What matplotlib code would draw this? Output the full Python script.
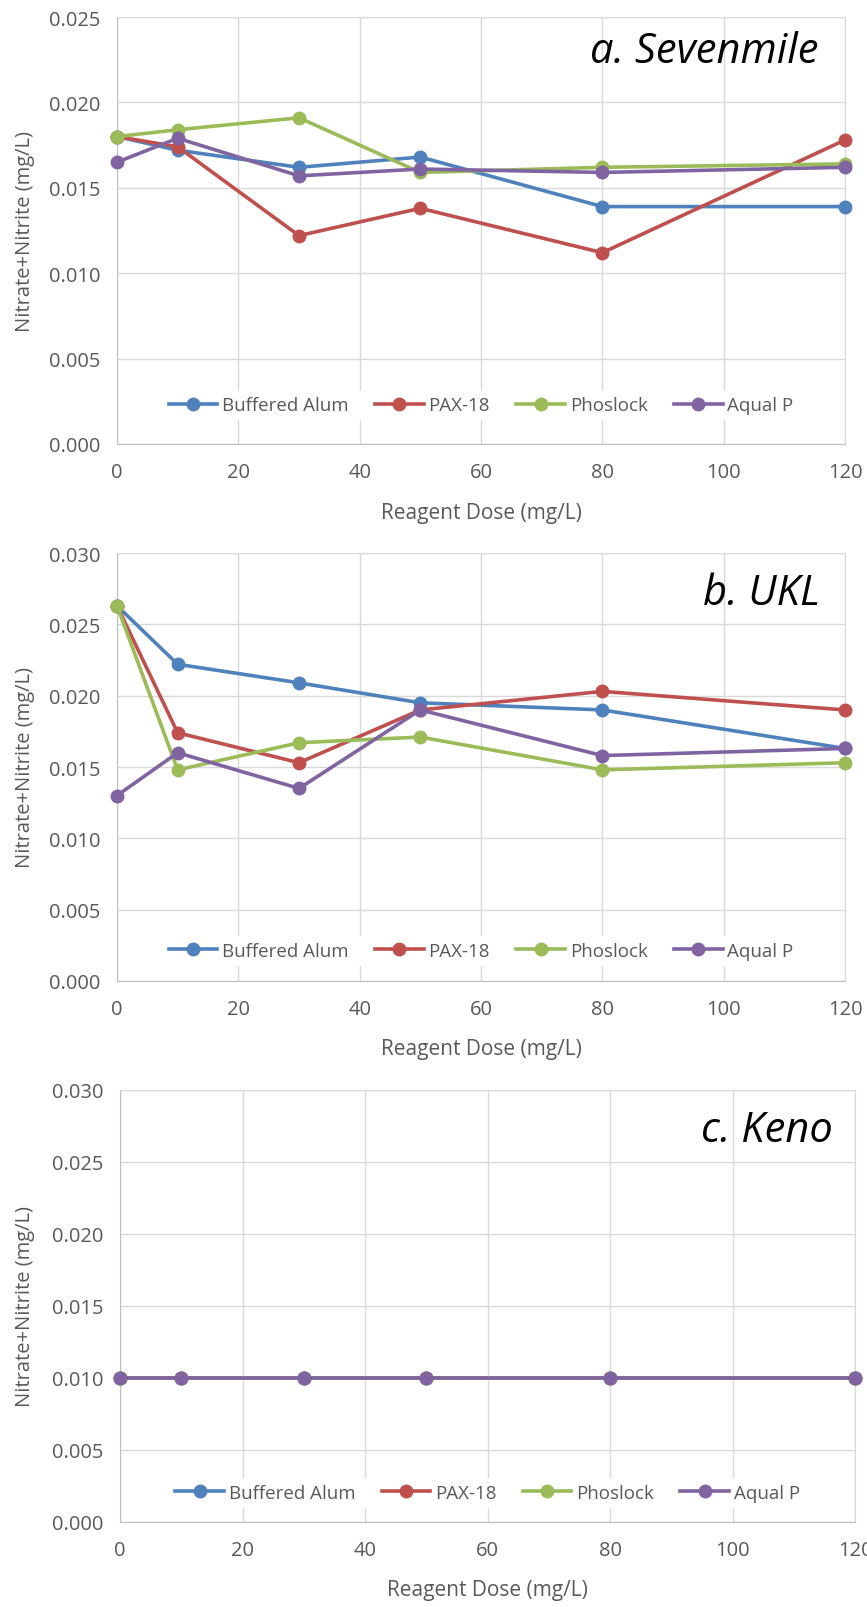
import numpy as np
import matplotlib.pyplot as plt

plt.rcParams['font.family'] = ['Open Sans', 'DejaVu Sans']

dose = [0, 10, 30, 50, 80, 120]
series_names = ['Buffered Alum', 'PAX-18', 'Phoslock', 'Aqual P']
colors = ['#4F81BD', '#C0504D', '#9BBB59', '#8064A2']

# a. Sevenmile
sevenmile_alum = [0.0180, 0.0172, 0.0162, 0.0168, 0.0139, 0.0139]
sevenmile_pax = [0.0180, 0.0174, 0.0122, 0.0138, 0.0112, 0.0178]
sevenmile_phos = [0.0180, 0.0184, 0.0191, 0.0159, 0.0162, 0.0164]
sevenmile_aqual = [0.0165, 0.0179, 0.0157, 0.0161, 0.0159, 0.0162]

# b. UKL
ukl_alum = [0.0263, 0.0222, 0.0209, 0.0195, 0.0190, 0.0163]
ukl_pax = [0.0263, 0.0174, 0.0153, 0.0190, 0.0203, 0.0190]
ukl_phos = [0.0263, 0.0148, 0.0167, 0.0171, 0.0148, 0.0153]
ukl_aqual = [0.0130, 0.0160, 0.0135, 0.0190, 0.0158, 0.0163]

# c. Keno
keno_alum = [0.010, 0.010, 0.010, 0.010, 0.010, 0.010]
keno_pax = [0.010, 0.010, 0.010, 0.010, 0.010, 0.010]
keno_phos = [0.010, 0.010, 0.010, 0.010, 0.010, 0.010]
keno_aqual = [0.010, 0.010, 0.010, 0.010, 0.010, 0.010]

W, H = 867, 1608
fig = plt.figure(figsize=(W / 100, H / 100), dpi=100)


def px_axes(left, right, top, bottom):
    return fig.add_axes([left / W, (H - bottom) / H, (right - left) / W, (bottom - top) / H])


panels = [
    dict(box=(117, 845, 18, 445), ymax=0.025, title='a. Sevenmile',
         data=[sevenmile_alum, sevenmile_pax, sevenmile_phos, sevenmile_aqual],
         title_pos=(0.963, 0.895), leg_y=0.091),
    dict(box=(117, 845, 554, 982), ymax=0.030, title='b. UKL',
         data=[ukl_alum, ukl_pax, ukl_phos, ukl_aqual],
         title_pos=(0.966, 0.881), leg_y=0.070),
    dict(box=(120, 855, 1091, 1523), ymax=0.030, title='c. Keno',
         data=[keno_alum, keno_pax, keno_phos, keno_aqual],
         title_pos=(0.970, 0.882), leg_y=0.067),
]

for p in panels:
    left, right, top, bottom = p['box']
    ax = px_axes(left, right, top, bottom)
    for name, vals, c in zip(series_names, p['data'], colors):
        ax.plot(dose, vals, color=c, lw=2.6, marker='o', ms=9, label=name,
                solid_joinstyle='round', clip_on=False, zorder=3)
    ax.set_xlim(0, 120)
    ax.set_ylim(0, p['ymax'])
    ax.set_xticks(np.arange(0, 121, 20))
    ax.set_yticks(np.arange(0, p['ymax'] + 1e-9, 0.005))
    ax.yaxis.set_major_formatter(plt.FormatStrFormatter('%.3f'))
    ax.grid(True, color='#D9D9D9', lw=1.0, zorder=0)
    ax.set_axisbelow(True)
    for s in ax.spines.values():
        s.set_color('#D9D9D9')
    ax.spines['bottom'].set_color('#BFBFBF')
    ax.spines['left'].set_color('#BFBFBF')
    ax.tick_params(length=0, labelsize=14.5, labelcolor='#595959')
    ax.tick_params(axis='y', pad=12)
    ax.tick_params(axis='x', pad=13)

    h_ax = bottom - top
    ax.set_ylabel('Nitrate+Nitrite (mg/L)', fontsize=14.5, color='#595959')
    ax.yaxis.set_label_coords((25 - left) / (right - left), 0.5)
    ax.yaxis.label.set_va('center')
    ax.set_xlabel('Reagent Dose (mg/L)', fontsize=15, color='#595959')
    ax.xaxis.set_label_coords(0.5, -68 / h_ax)
    ax.xaxis.label.set_va('center')

    ax.text(p['title_pos'][0], p['title_pos'][1], p['title'], transform=ax.transAxes,
            ha='right', va='baseline', fontsize=30, style='italic', color='black')

    leg = ax.legend(loc='center', bbox_to_anchor=(0.5, p['leg_y']), ncol=4,
                    fontsize=13.5, frameon=True, handlelength=2.6, handletextpad=0.25,
                    columnspacing=1.4, borderpad=0.3)
    leg.get_frame().set_facecolor('white')
    leg.get_frame().set_edgecolor('none')
    leg.get_frame().set_alpha(1)
    for t in leg.get_texts():
        t.set_color('#595959')

fig.savefig('out.png', dpi=100)
